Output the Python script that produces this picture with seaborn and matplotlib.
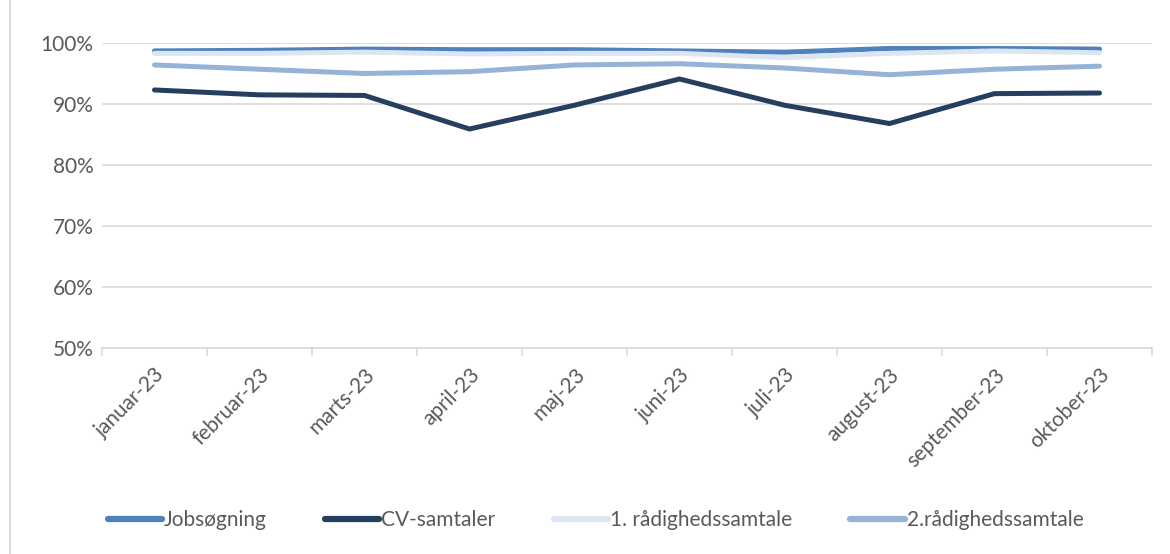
import matplotlib
matplotlib.use("Agg")
import matplotlib.pyplot as plt
from matplotlib.lines import Line2D
from matplotlib.ticker import FuncFormatter, FixedLocator
import seaborn as sns
import pandas as pd

# Data
months = ["januar-23", "februar-23", "marts-23", "april-23", "maj-23",
          "juni-23", "juli-23", "august-23", "september-23", "oktober-23"]
jobsoegning = [98.7, 98.8, 99.0, 98.9, 98.9, 98.7, 98.5, 99.1, 99.1, 99.0]
cv_samtaler = [92.3, 91.5, 91.4, 85.9, 89.8, 94.1, 89.8, 86.8, 91.7, 91.8]
raadighed_1 = [98.3, 98.3, 98.5, 98.2, 98.3, 98.3, 97.6, 98.3, 98.7, 98.4]
raadighed_2 = [96.4, 95.7, 95.0, 95.3, 96.4, 96.6, 95.9, 94.8, 95.7, 96.2]

series = ["Jobsøgning", "CV-samtaler", "1. rådighedssamtale", "2.rådighedssamtale"]
colors = ["#4F81BD", "#243F60", "#DCE6F2", "#95B3D7"]

rows = []
for name, vals in zip(series, [jobsoegning, cv_samtaler, raadighed_1, raadighed_2]):
    for i, v in enumerate(vals):
        rows.append({"pos": i, "value": v, "serie": name})
df = pd.DataFrame(rows)

sns.set_style("white")
plt.rcParams["font.family"] = ["Lato", "DejaVu Sans"]
text_color = "#595959"
grid_color = "#D9D9D9"

fig = plt.figure(figsize=(11.7, 5.54), dpi=100)
ax = fig.add_axes([102 / 1170, 1 - 348 / 554, 1050 / 1170, 305 / 554])

sns.lineplot(data=df, x="pos", y="value", hue="serie", hue_order=series,
             palette=colors, linewidth=3.6, ax=ax, legend=False,
             solid_capstyle="round", solid_joinstyle="miter")

ax.set_xlim(-0.5, len(months) - 0.5)
ax.set_ylim(50, 100)
ax.set_yticks(range(50, 101, 10))
ax.yaxis.set_major_formatter(FuncFormatter(lambda v, p: f"{int(v)}%"))
ax.grid(axis="y", color=grid_color, linewidth=1.2)
ax.set_axisbelow(True)

ax.set_xticks(range(len(months)))
ax.set_xticklabels(months, rotation=45, ha="right", va="top", rotation_mode="anchor")
ax.xaxis.set_minor_locator(FixedLocator([i - 0.5 for i in range(len(months) + 1)]))
ax.tick_params(axis="x", which="major", bottom=True, length=0, pad=12, labelsize=15,
               labelcolor=text_color)
ax.tick_params(axis="x", which="minor", bottom=True, length=6, width=1.2,
               color=grid_color, direction="out")
ax.tick_params(axis="y", length=0, pad=6, labelsize=15, labelcolor=text_color)
ax.set_xlabel("")
ax.set_ylabel("")

for side in ["left", "right", "top"]:
    ax.spines[side].set_visible(False)
ax.spines["bottom"].set_color(grid_color)
ax.spines["bottom"].set_linewidth(1.2)

handles = [Line2D([0], [0], color=c, linewidth=4.5, solid_capstyle="round") for c in colors]
fig.legend(handles, series, loc="center", bbox_to_anchor=(0.509, 1 - 520 / 554),
           ncol=4, frameon=False, fontsize=15, handlelength=2.6, handletextpad=0.1,
           columnspacing=2.8, labelcolor=text_color)

# chart border on the left
fig.add_artist(Line2D([10 / 1170, 10 / 1170], [0, 1], color=grid_color, linewidth=1.5,
                      transform=fig.transFigure))

fig.savefig("out.png", dpi=100)
